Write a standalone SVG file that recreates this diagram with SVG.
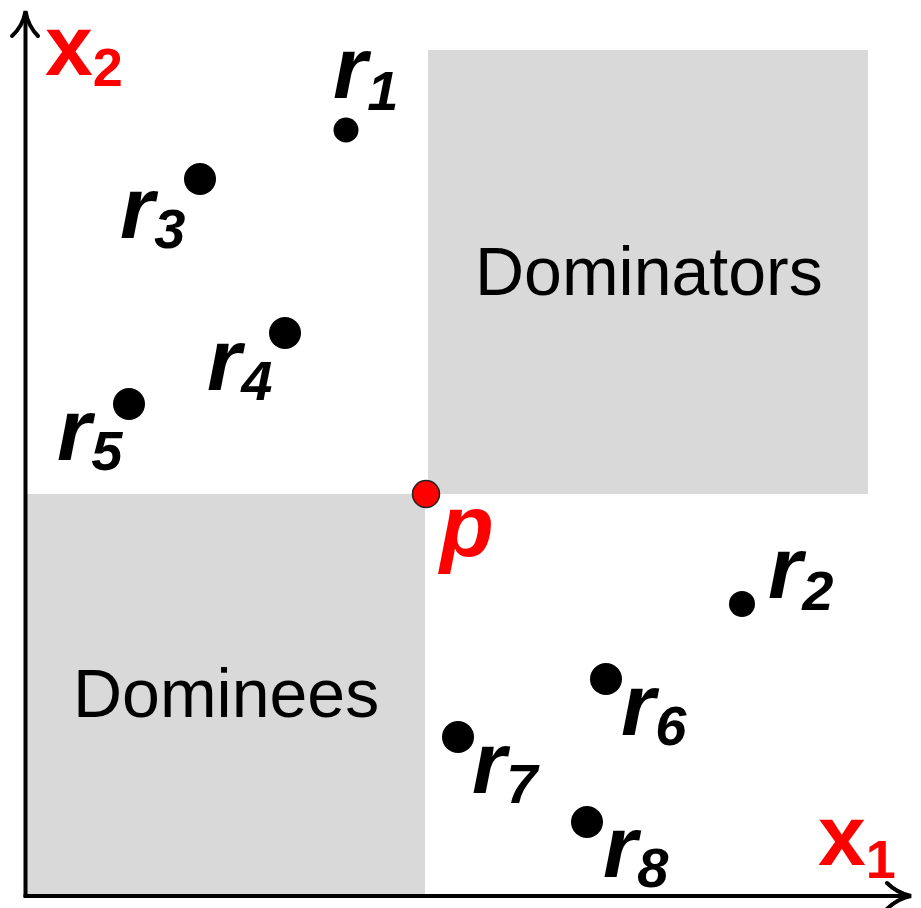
<svg xmlns="http://www.w3.org/2000/svg" width="921" height="908" viewBox="0 0 921 908">
<style>
.region{fill:#d9d9d9}
.pt{fill:#000}
.lbl{font-family:"Liberation Sans",Arial,sans-serif;font-weight:bold;font-style:italic;font-size:88px;fill:#000}
.sub{font-size:56px}
.reg{font-family:"Liberation Sans",Arial,sans-serif;font-size:68px;fill:#000}
.ax{font-family:"Liberation Sans",Arial,sans-serif;font-weight:bold;font-size:86px;fill:#ff0000}
.axis{stroke:#000;stroke-width:4;fill:none}
</style>
<rect width="921" height="908" fill="#fff"/>
<g id="dominees"><rect class="region" x="26" y="494" width="399" height="401"/><text class="reg" x="73" y="717">Dominees</text></g>
<g id="dominators"><rect class="region" x="428" y="50" width="440" height="444"/><text class="reg" x="475" y="295">Dominators</text></g>
<g id="axes">
<path class="axis" d="M25.5,897 V12"/>
<path class="axis" d="M23.5,896 H911"/>
<path class="axis" stroke-linecap="round" d="M12,36 Q23,26 25.5,11 Q28,26 38,36"/>
<path class="axis" stroke-linecap="round" d="M887,883 Q897,893 911,896 Q897,899 887,909"/>
<text class="ax" x="45" y="75">x<tspan font-size="54" dy="11">2</tspan></text>
<text class="ax" x="818" y="865">x<tspan font-size="54" dy="13">1</tspan></text>
</g>
<g id="p"><circle cx="426" cy="494" r="13.5" fill="#ff0000" stroke="#222" stroke-width="1.5"/><text class="lbl" x="440" y="556" style="fill:#ff0000">p</text></g>
<g id="r1"><circle class="pt" cx="346" cy="130" r="12.5"/><text class="lbl" x="333" y="98">r<tspan class="sub" dy="12">1</tspan></text></g>
<g id="r3"><circle class="pt" cx="200" cy="179" r="16"/><text class="lbl" x="120" y="238">r<tspan class="sub" dy="10">3</tspan></text></g>
<g id="r4"><circle class="pt" cx="285" cy="333" r="16"/><text class="lbl" x="207" y="390">r<tspan class="sub" dy="10">4</tspan></text></g>
<g id="r5"><circle class="pt" cx="129" cy="404" r="16"/><text class="lbl" x="57" y="460">r<tspan class="sub" dy="10">5</tspan></text></g>
<g id="r2"><circle class="pt" cx="742" cy="604" r="13"/><text class="lbl" x="768" y="598">r<tspan class="sub" dy="12">2</tspan></text></g>
<g id="r6"><circle class="pt" cx="606" cy="679" r="16"/><text class="lbl" x="621" y="735">r<tspan class="sub" dy="10">6</tspan></text></g>
<g id="r7"><circle class="pt" cx="458" cy="737" r="16"/><text class="lbl" x="472" y="793">r<tspan class="sub" dy="10">7</tspan></text></g>
<g id="r8"><circle class="pt" cx="587" cy="822" r="16"/><text class="lbl" x="603" y="877">r<tspan class="sub" dy="10">8</tspan></text></g>
</svg>
